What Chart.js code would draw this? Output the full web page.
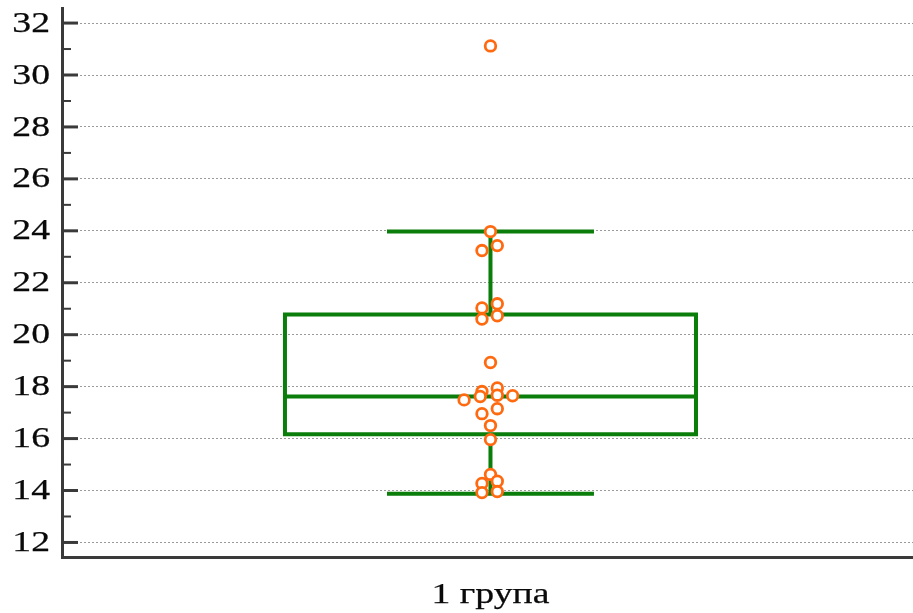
<!DOCTYPE html>
<html>
<head>
<meta charset="utf-8">
<script src="https://cdn.jsdelivr.net/npm/chart.js@4.4.0/dist/chart.umd.min.js"></script>
<style>
  body { margin: 0; background: #fff; }
  #wrap { width: 913px; height: 613px; }
</style>
</head>
<body>
<div id="wrap"><canvas id="boxChart" width="913" height="613"></canvas></div>
<script>
// Data
const groupLabels = ['1 група'];
const groupPos = [1];
// box stats: lower whisker, q1, median, q3, upper whisker
const boxLow = [13.88];
const boxQ1 = [16.17];
const boxMedian = [17.62];
const boxQ3 = [20.78];
const boxHigh = [23.97];
// individual observations and their horizontal jitter
const pointValues = [31.12, 23.97, 23.24, 23.43, 21.03, 21.19, 20.6, 20.73, 18.93,
  17.95, 17.81, 17.67, 17.65, 17.49, 17.62, 16.96, 17.15, 16.5, 15.96,
  14.62, 14.27, 14.36, 13.92, 13.96];
const pointJitter = [0, 0, -0.01, 0.008, -0.01, 0.008, -0.01, 0.008, 0,
  0.008, -0.01, 0.008, 0.026, -0.031, -0.012, -0.01, 0.008, 0, 0,
  0, -0.01, 0.008, -0.01, 0.008];
const yTicks = [12, 14, 16, 18, 20, 22, 24, 26, 28, 30, 32];
const yMinorTicks = [13, 15, 17, 19, 21, 23, 25, 27, 29, 31];

const green = '#0b7d0b';
const axisColor = '#3a3a3a';
const labelFont = '29px "Liberation Serif"';
const stretch = 1.3; // labels in the original are wide

// box + whiskers drawn through the scales
const boxPlugin = {
  id: 'boxPlugin',
  beforeDatasetsDraw(chart) {
    const ctx = chart.ctx;
    const xs = chart.scales.x;
    const ys = chart.scales.y;
    ctx.save();
    ctx.strokeStyle = green;
    ctx.lineWidth = 4;
    groupPos.forEach((g, i) => {
      const xl = xs.getPixelForValue(g - 0.2415);
      const xr = xs.getPixelForValue(g + 0.2415);
      const xc = xs.getPixelForValue(g);
      const cl = xs.getPixelForValue(g - 0.1216);
      const cr = xs.getPixelForValue(g + 0.1216);
      const yLo = ys.getPixelForValue(boxLow[i]);
      const y1 = ys.getPixelForValue(boxQ1[i]);
      const yM = ys.getPixelForValue(boxMedian[i]);
      const y3 = ys.getPixelForValue(boxQ3[i]);
      const yHi = ys.getPixelForValue(boxHigh[i]);
      ctx.beginPath();
      ctx.rect(xl, y3, xr - xl, y1 - y3);
      ctx.moveTo(xl, yM); ctx.lineTo(xr, yM);
      ctx.moveTo(xc, y3); ctx.lineTo(xc, yHi);
      ctx.moveTo(xc, y1); ctx.lineTo(xc, yLo);
      ctx.moveTo(cl, yHi); ctx.lineTo(cr, yHi);
      ctx.moveTo(cl, yLo); ctx.lineTo(cr, yLo);
      ctx.stroke();
    });
    ctx.restore();
  },
  afterDraw(chart) {
    const ctx = chart.ctx;
    const xs = chart.scales.x;
    const ys = chart.scales.y;
    const left = chart.chartArea.left;
    const bottom = chart.chartArea.bottom;
    // tick marks pointing into the plot
    ctx.save();
    ctx.strokeStyle = axisColor;
    ctx.lineWidth = 3;
    yTicks.forEach(v => {
      const y = ys.getPixelForValue(v);
      ctx.beginPath(); ctx.moveTo(left, y); ctx.lineTo(left + 16, y); ctx.stroke();
    });
    ctx.lineWidth = 2;
    yMinorTicks.forEach(v => {
      const y = ys.getPixelForValue(v);
      ctx.beginPath(); ctx.moveTo(left, y); ctx.lineTo(left + 9, y); ctx.stroke();
    });
    // stretched serif labels
    ctx.fillStyle = '#0a0a0a';
    ctx.strokeStyle = '#0a0a0a';
    ctx.lineWidth = 0.25;
    ctx.font = labelFont;
    ctx.textAlign = 'right';
    ctx.textBaseline = 'middle';
    yTicks.forEach(v => {
      const y = ys.getPixelForValue(v);
      ctx.save();
      ctx.translate(left - 12, y + 1);
      ctx.scale(stretch, 1);
      ctx.fillText(String(v), 0, 0);
      ctx.strokeText(String(v), 0, 0);
      ctx.restore();
    });
    ctx.textAlign = 'center';
    ctx.textBaseline = 'alphabetic';
    groupPos.forEach((g, i) => {
      ctx.save();
      ctx.translate(xs.getPixelForValue(g), bottom + 46);
      ctx.scale(stretch, 1);
      ctx.fillText(groupLabels[i], 0, 0);
      ctx.strokeText(groupLabels[i], 0, 0);
      ctx.restore();
    });
    ctx.restore();
  }
};

const points = pointValues.map((v, i) => ({ x: groupPos[0] + pointJitter[i], y: v }));

new Chart(document.getElementById('boxChart'), {
  type: 'scatter',
  data: {
    datasets: [{
      data: points,
      pointStyle: 'circle',
      pointRadius: 5.3,
      pointBorderWidth: 2.8,
      borderColor: '#ff6a10',
      backgroundColor: '#ffffff'
    }]
  },
  options: {
    responsive: false,
    animation: false,
    layout: { autoPadding: false, padding: { top: 8, right: 0, left: 0, bottom: 0 } },
    plugins: { legend: { display: false }, tooltip: { enabled: false } },
    scales: {
      x: {
        type: 'linear',
        min: 0.4965,
        max: 1.4965,
        afterBuildTicks: scale => { scale.ticks = groupPos.map(v => ({ value: v })); },
        afterFit: scale => { scale.height = 56; },
        grid: { display: false, drawTicks: false },
        border: { display: true, width: 3, color: axisColor },
        ticks: { display: false }
      },
      y: {
        min: 11.44,
        max: 32.58,
        afterBuildTicks: scale => { scale.ticks = yTicks.map(v => ({ value: v })); },
        afterFit: scale => { scale.width = 62; },
        grid: { color: '#9a9a9a', lineWidth: 1, drawTicks: false },
        border: { display: true, width: 3, color: axisColor, dash: [2, 2] },
        ticks: { display: false }
      }
    }
  },
  plugins: [boxPlugin]
});
</script>
</body>
</html>
